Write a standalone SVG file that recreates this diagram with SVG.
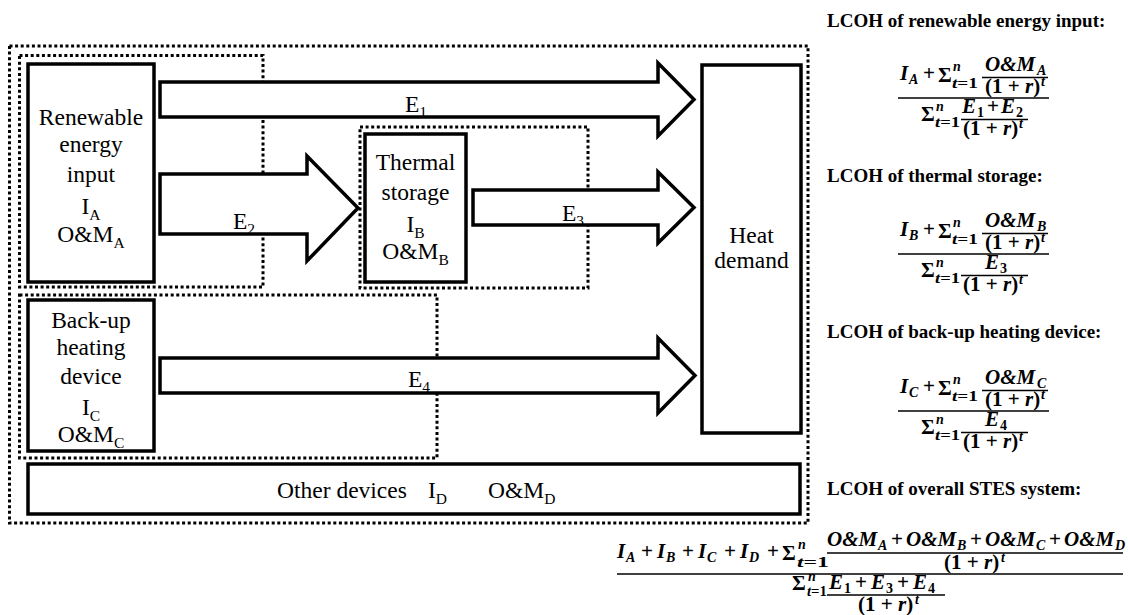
<svg xmlns="http://www.w3.org/2000/svg" width="1128" height="615" viewBox="0 0 1128 615">
<style>
text{font-family:"Liberation Serif","Times New Roman",serif;fill:#000}
.lb{font-size:23.5px}
.sb{font-size:15.5px}
.ttl{font-size:19px;font-weight:bold}
.box{fill:#fff;stroke:#000;stroke-width:3.5}
.dot{fill:none;stroke:#000;stroke-width:3;stroke-dasharray:3 2.6}
.arr{fill:#fff;stroke:#000;stroke-width:3.5;stroke-linejoin:miter}
.bar{stroke:#000;stroke-width:1.6}
.Mi{font-style:italic;font-weight:bold;font-size:21px}
.Mu{font-weight:bold;font-size:21px}
.Si{font-style:italic;font-weight:bold;font-size:14px}
.Su{font-weight:bold;font-size:14px}
</style>
<rect width="1128" height="615" fill="#fff"/>

<!-- dotted system boundaries -->
<g id="boundaries">
<rect class="dot" x="9.5" y="46" width="798.5" height="477"/>
<rect class="dot" x="19.5" y="55.5" width="243.5" height="231.5"/>
<rect class="dot" x="360" y="127" width="228" height="161"/>
<rect class="dot" x="19.5" y="295" width="417.5" height="163"/>
</g>

<g id="connectors">
<polygon class="arr" points="160,82 658,82 658,63 694,99.5 658,136 658,117 160,117"/>
<text class="lb" x="405" y="112">E<tspan class="sb" dy="5">1</tspan></text>
<polygon class="arr" points="160,174 307,174 307,156 358,208 307,261 307,234 160,234"/>
<text class="lb" x="233" y="229">E<tspan class="sb" dy="5">2</tspan></text>
<polygon class="arr" points="473,190 658,190 658,172 694,207.5 658,243 658,225 473,225"/>
<text class="lb" x="562" y="221">E<tspan class="sb" dy="5">3</tspan></text>
<polygon class="arr" points="160,358 658,358 658,338 695,375.5 658,413 658,393 160,393"/>
<text class="lb" x="408" y="387">E<tspan class="sb" dy="5">4</tspan></text>
</g>

<g id="renewable">
<rect class="box" x="28" y="64" width="126" height="218"/>
<text class="lb" text-anchor="middle" x="91" y="125">Renewable</text>
<text class="lb" text-anchor="middle" x="91" y="152">energy</text>
<text class="lb" text-anchor="middle" x="91" y="182">input</text>
<text class="lb" text-anchor="middle" x="91" y="214">I<tspan class="sb" dy="6">A</tspan></text>
<text class="lb" text-anchor="middle" x="91" y="242">O&amp;M<tspan class="sb" dy="6">A</tspan></text>
</g>

<g id="thermal">
<rect class="box" x="365" y="134" width="101" height="148"/>
<text class="lb" text-anchor="middle" x="415.5" y="170">Thermal</text>
<text class="lb" text-anchor="middle" x="415.5" y="200">storage</text>
<text class="lb" text-anchor="middle" x="415.5" y="232">I<tspan class="sb" dy="6">B</tspan></text>
<text class="lb" text-anchor="middle" x="415.5" y="259">O&amp;M<tspan class="sb" dy="6">B</tspan></text>
</g>

<g id="heat">
<rect class="box" x="702" y="65" width="99" height="368"/>
<text class="lb" text-anchor="middle" x="751.5" y="243">Heat</text>
<text class="lb" text-anchor="middle" x="751.5" y="268">demand</text>
</g>

<g id="backup">
<rect class="box" x="28" y="300" width="126" height="151"/>
<text class="lb" text-anchor="middle" x="91" y="328">Back-up</text>
<text class="lb" text-anchor="middle" x="91" y="355">heating</text>
<text class="lb" text-anchor="middle" x="91" y="384">device</text>
<text class="lb" text-anchor="middle" x="91" y="415">I<tspan class="sb" dy="6">C</tspan></text>
<text class="lb" text-anchor="middle" x="91" y="442">O&amp;M<tspan class="sb" dy="6">C</tspan></text>
</g>

<g id="other">
<rect class="box" x="28" y="464" width="772" height="50"/>
<text class="lb" x="277" y="498">Other devices</text>
<text class="lb" x="428" y="498">I<tspan class="sb" dy="6">D</tspan></text>
<text class="lb" x="488" y="498">O&amp;M<tspan class="sb" dy="6">D</tspan></text>
</g>

<!-- formula 1 -->
<g id="f1">
<text class="ttl" x="827" y="27">LCOH of renewable energy input:</text>
<text class="Mi" x="900" y="80">I</text><text class="Si" x="909" y="84">A</text>
<text class="Mu" x="923" y="80">+</text>
<text class="Mu" x="938" y="82">Σ</text>
<text class="Si" x="953" y="71">n</text>
<text x="952" y="88" textLength="26" lengthAdjust="spacingAndGlyphs"><tspan class="Si">t</tspan><tspan class="Su">=1</tspan></text>
<text class="Mi" x="985" y="71">O&amp;M</text><text class="Si" x="1037" y="75">A</text>
<line class="bar" x1="982" y1="77.5" x2="1048" y2="77.5"/>
<text x="985" y="93"><tspan class="Mu">(1 + </tspan><tspan class="Mi">r</tspan><tspan class="Mu">)</tspan></text><text class="Si" x="1041" y="86">t</text>
<line class="bar" x1="898" y1="98" x2="1049" y2="98"/>
<text class="Mu" x="921" y="121">Σ</text>
<text class="Si" x="936" y="111">n</text>
<text x="935" y="127" textLength="25" lengthAdjust="spacingAndGlyphs"><tspan class="Si">t</tspan><tspan class="Su">=1</tspan></text>
<text class="Mi" x="962" y="113">E</text><text class="Su" x="977" y="117">1</text>
<text class="Mu" x="987" y="113">+</text>
<text class="Mi" x="1001" y="113">E</text><text class="Su" x="1016" y="117">2</text>
<line class="bar" x1="961" y1="119.5" x2="1028" y2="119.5"/>
<text x="963" y="135"><tspan class="Mu">(1 + </tspan><tspan class="Mi">r</tspan><tspan class="Mu">)</tspan></text><text class="Si" x="1019" y="128">t</text>
</g>

<!-- formula 2 -->
<g id="f2" transform="translate(0,156)">
<text class="ttl" x="827" y="26">LCOH of thermal storage:</text>
<text class="Mi" x="900" y="80">I</text><text class="Si" x="909" y="84">B</text>
<text class="Mu" x="923" y="80">+</text>
<text class="Mu" x="938" y="82">Σ</text>
<text class="Si" x="953" y="71">n</text>
<text x="952" y="88" textLength="26" lengthAdjust="spacingAndGlyphs"><tspan class="Si">t</tspan><tspan class="Su">=1</tspan></text>
<text class="Mi" x="985" y="71">O&amp;M</text><text class="Si" x="1037" y="75">B</text>
<line class="bar" x1="982" y1="77.5" x2="1048" y2="77.5"/>
<text x="985" y="93"><tspan class="Mu">(1 + </tspan><tspan class="Mi">r</tspan><tspan class="Mu">)</tspan></text><text class="Si" x="1041" y="86">t</text>
<line class="bar" x1="898" y1="98" x2="1049" y2="98"/>
<text class="Mu" x="921" y="121">Σ</text>
<text class="Si" x="936" y="111">n</text>
<text x="935" y="127" textLength="25" lengthAdjust="spacingAndGlyphs"><tspan class="Si">t</tspan><tspan class="Su">=1</tspan></text>
<text class="Mi" x="985" y="113">E</text><text class="Su" x="1000" y="117">3</text>
<line class="bar" x1="961" y1="119.5" x2="1028" y2="119.5"/>
<text x="963" y="135"><tspan class="Mu">(1 + </tspan><tspan class="Mi">r</tspan><tspan class="Mu">)</tspan></text><text class="Si" x="1019" y="128">t</text>
</g>

<!-- formula 3 -->
<g id="f3" transform="translate(0,313)">
<text class="ttl" x="827" y="25">LCOH of back-up heating device:</text>
<text class="Mi" x="900" y="80">I</text><text class="Si" x="909" y="84">C</text>
<text class="Mu" x="923" y="80">+</text>
<text class="Mu" x="938" y="82">Σ</text>
<text class="Si" x="953" y="71">n</text>
<text x="952" y="88" textLength="26" lengthAdjust="spacingAndGlyphs"><tspan class="Si">t</tspan><tspan class="Su">=1</tspan></text>
<text class="Mi" x="985" y="71">O&amp;M</text><text class="Si" x="1037" y="75">C</text>
<line class="bar" x1="982" y1="77.5" x2="1048" y2="77.5"/>
<text x="985" y="93"><tspan class="Mu">(1 + </tspan><tspan class="Mi">r</tspan><tspan class="Mu">)</tspan></text><text class="Si" x="1041" y="86">t</text>
<line class="bar" x1="898" y1="98" x2="1049" y2="98"/>
<text class="Mu" x="921" y="121">Σ</text>
<text class="Si" x="936" y="111">n</text>
<text x="935" y="127" textLength="25" lengthAdjust="spacingAndGlyphs"><tspan class="Si">t</tspan><tspan class="Su">=1</tspan></text>
<text class="Mi" x="985" y="113">E</text><text class="Su" x="1000" y="117">4</text>
<line class="bar" x1="961" y1="119.5" x2="1028" y2="119.5"/>
<text x="963" y="135"><tspan class="Mu">(1 + </tspan><tspan class="Mi">r</tspan><tspan class="Mu">)</tspan></text><text class="Si" x="1019" y="128">t</text>
</g>

<!-- formula 4 -->
<g id="f4">
<text class="ttl" x="827" y="495">LCOH of overall STES system:</text>
<text class="Mi" x="617" y="558">I</text><text class="Si" x="626" y="562">A</text>
<text class="Mu" x="641" y="558">+</text>
<text class="Mi" x="657" y="558">I</text><text class="Si" x="666" y="562">B</text>
<text class="Mu" x="682" y="558">+</text>
<text class="Mi" x="698" y="558">I</text><text class="Si" x="707" y="562">C</text>
<text class="Mu" x="724" y="558">+</text>
<text class="Mi" x="740" y="558">I</text><text class="Si" x="749" y="562">D</text>
<text class="Mu" x="767" y="558">+</text>
<text class="Mu" x="782" y="560">Σ</text>
<text class="Si" x="798" y="549">n</text>
<text x="797" y="567" textLength="32" lengthAdjust="spacingAndGlyphs"><tspan class="Si">t</tspan><tspan class="Su">=1</tspan></text>
<text class="Mi" x="827" y="546">O&amp;M</text><text class="Si" x="878" y="550">A</text>
<text class="Mu" x="891" y="546">+</text>
<text class="Mi" x="906" y="546">O&amp;M</text><text class="Si" x="957" y="550">B</text>
<text class="Mu" x="970" y="546">+</text>
<text class="Mi" x="985" y="546">O&amp;M</text><text class="Si" x="1036" y="550">C</text>
<text class="Mu" x="1049" y="546">+</text>
<text class="Mi" x="1064" y="546">O&amp;M</text><text class="Si" x="1115" y="550">D</text>
<line class="bar" x1="827" y1="553" x2="1123" y2="553"/>
<text x="944" y="569"><tspan class="Mu">(1 + </tspan><tspan class="Mi">r</tspan><tspan class="Mu">)</tspan></text><text class="Si" x="1001" y="562">t</text>
<line class="bar" x1="617" y1="574" x2="1123" y2="574"/>
<text class="Mu" x="792" y="590">Σ</text>
<text class="Si" x="808" y="581">n</text>
<text x="807" y="596" textLength="20" lengthAdjust="spacingAndGlyphs"><tspan class="Si">t</tspan><tspan class="Su">=1</tspan></text>
<text class="Mi" x="829" y="589">E</text><text class="Su" x="844" y="593">1</text>
<text class="Mu" x="855" y="589">+</text>
<text class="Mi" x="871" y="589">E</text><text class="Su" x="886" y="593">3</text>
<text class="Mu" x="897" y="589">+</text>
<text class="Mi" x="913" y="589">E</text><text class="Su" x="928" y="593">4</text>
<line class="bar" x1="827" y1="595" x2="945" y2="595"/>
<text x="858" y="611"><tspan class="Mu">(1 + </tspan><tspan class="Mi">r</tspan><tspan class="Mu">)</tspan></text><text class="Si" x="915" y="604">t</text>
</g>
</svg>
